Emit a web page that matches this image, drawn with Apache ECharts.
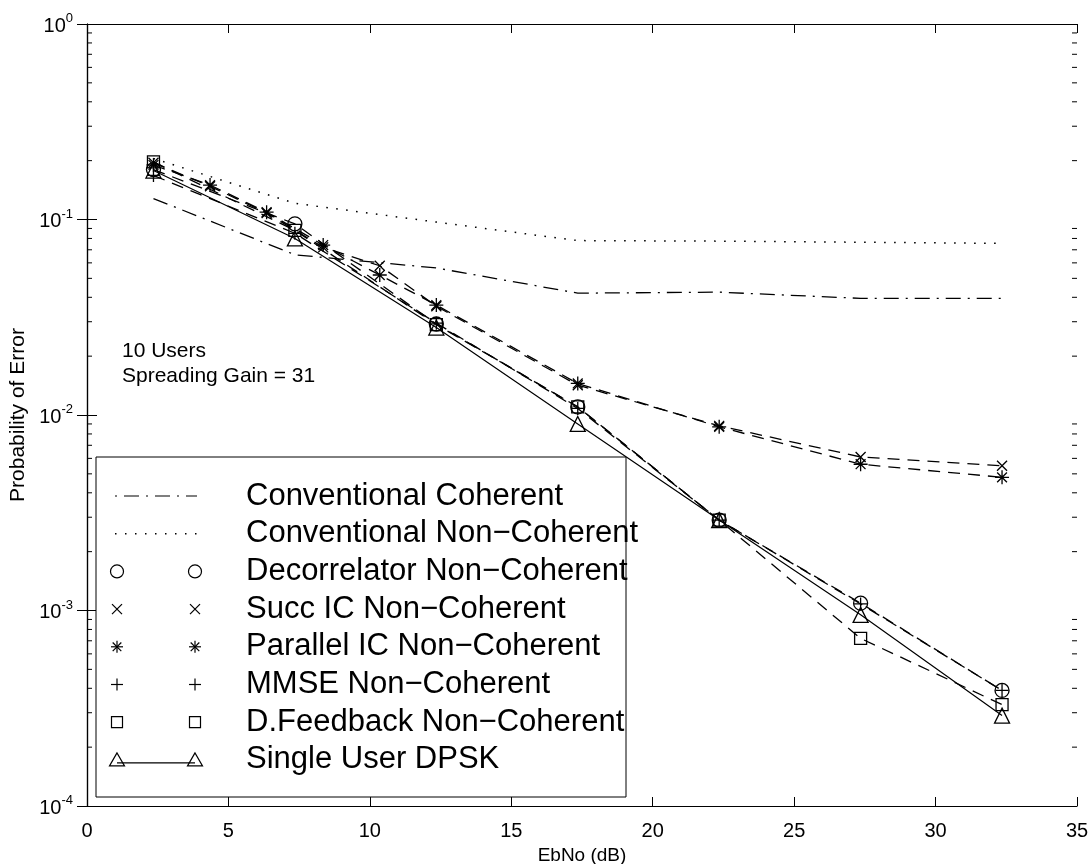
<!DOCTYPE html>
<html><head><meta charset="utf-8">
<script src="https://cdn.jsdelivr.net/npm/echarts@6/dist/echarts.min.js"></script>
<style>html,body{margin:0;padding:0;background:#fff}#c{width:1091px;height:864px}</style>
</head><body><div id="c"></div>
<script>
// ---------- data ----------
const ebnoCoarse = [2.35, 7.35, 12.35, 17.35, 22.35, 27.35, 32.35];
const ebnoFine = [2.35, 4.35, 6.35, 8.35, 10.35, 12.35, 17.35, 22.35, 27.35, 32.35];

const convCoherent    = [0.128, 0.066, 0.0565, 0.042, 0.0425, 0.0395, 0.0395];
const convNonCoherent = [0.205, 0.121, 0.097, 0.078, 0.0775, 0.0765, 0.0755];
const decorrelator    = [0.180, 0.095, 0.0292, 0.0110, 0.0029, 0.00109, 0.00039];
const succIC          = [0.195, 0.148, 0.108, 0.072, 0.058, 0.036, 0.0142, 0.0088, 0.0061, 0.0055];
const parallelIC      = [0.190, 0.150, 0.109, 0.074, 0.052, 0.0365, 0.0145, 0.0087, 0.0056, 0.0048];
const mmse            = [0.168, 0.085, 0.0295, 0.0108, 0.0029, 0.00108, 0.00039];
const dFeedback       = [0.197, 0.088, 0.0290, 0.0110, 0.0029, 0.00072, 0.00033];
const singleUser      = [0.178, 0.080, 0.0280, 0.0090, 0.0029, 0.00095, 0.00029];

const seriesNames = [
  'Conventional Coherent',
  'Conventional Non\u2212Coherent',
  'Decorrelator Non\u2212Coherent',
  'Succ IC Non\u2212Coherent',
  'Parallel IC Non\u2212Coherent',
  'MMSE Non\u2212Coherent',
  'D.Feedback Non\u2212Coherent',
  'Single User DPSK'
];
const xTickStep = 5, xMin = 0, xMax = 35;
const yMin = 1e-4, yMax = 1;
const minorMantissas = [2, 3, 4, 5, 6, 7, 8, 9];
const decades = [1e-4, 1e-3, 1e-2, 1e-1];
const annotationLines = ['10 Users', 'Spreading Gain = 31'];
const xName = 'EbNo (dB)', yName = 'Probability of Error';

// ---------- helpers ----------
const FONT = "'Liberation Sans', Arial, Helvetica, sans-serif";
const pair = (xs, ys) => xs.map((x, i) => [x, ys[i]]);
const minorTickValues = [];
decades.forEach(d => minorMantissas.forEach(m => minorTickValues.push(m * d)));

const SYM = {
  x: 'path://M0,0L10,10M10,0L0,10',
  plus: 'path://M5,0L5,10M0,5L10,5',
  star: 'path://M5,0L5,10M0,5L10,5M1.5,1.5L8.5,8.5M8.5,1.5L1.5,8.5'
};
const black = '#000';
function markerSeries(name, xs, ys, symbol, size, lineType, lineWidth) {
  return {
    name, type: 'line', data: pair(xs, ys), symbol, symbolSize: size,
    showAllSymbol: true, silent: true, animation: false,
    lineStyle: { color: black, width: lineWidth || 1.3, type: lineType },
    itemStyle: { color: 'transparent', borderColor: black, borderWidth: 1.3 },
    z: 3
  };
}

const series = [
  markerSeries(seriesNames[0], ebnoCoarse, convCoherent, 'none', 0, [15, 7, 2, 7], 1.3),
  markerSeries(seriesNames[1], ebnoCoarse, convNonCoherent, 'none', 0, [1.6, 8.4], 1.5),
  markerSeries(seriesNames[2], ebnoCoarse, decorrelator, 'circle', 14, [12, 8]),
  markerSeries(seriesNames[3], ebnoFine, succIC, SYM.x, 10, [12, 8]),
  markerSeries(seriesNames[4], ebnoFine, parallelIC, SYM.star, 14, [12, 8]),
  markerSeries(seriesNames[5], ebnoCoarse, mmse, SYM.plus, 13, [12, 8]),
  markerSeries(seriesNames[6], ebnoCoarse, dFeedback, 'rect', 12, [12, 8]),
  markerSeries(seriesNames[7], ebnoCoarse, singleUser, 'triangle', 15, 'solid', 1.2),
  {
    type: 'custom', silent: true, animation: false, clip: false,
    data: minorTickValues.map(v => [xMin, v]),
    renderItem: function (params, api) {
      const v = api.value(1);
      const l = api.coord([xMin, v]);
      const r = api.coord([xMax, v]);
      const st = { stroke: black, lineWidth: 1 };
      return { type: 'group', children: [
        { type: 'line', shape: { x1: l[0], y1: l[1], x2: l[0] + 5, y2: l[1] }, style: st },
        { type: 'line', shape: { x1: r[0] - 5, y1: r[1], x2: r[0], y2: r[1] }, style: st }
      ]};
    }
  }
];

// ---------- legend (MATLAB style, drawn as graphic) ----------
const LG = { left: 96, top: 457, right: 626, bottom: 797, x1: 117, x2: 195, tx: 246, y0: 496, step: 37.7 };
const gst = { stroke: black, lineWidth: 1.2, fill: null };
function gline(x1, y1, x2, y2, extra) {
  return { type: 'line', z: 101, shape: { x1, y1, x2, y2 }, style: Object.assign({ stroke: black, lineWidth: 1.2 }, extra || {}) };
}
function legendMarker(kind, cx, cy) {
  switch (kind) {
    case 'circle': return [{ type: 'circle', z: 101, shape: { cx, cy, r: 6.5 }, style: gst }];
    case 'x': return [gline(cx - 5, cy - 5, cx + 5, cy + 5), gline(cx - 5, cy + 5, cx + 5, cy - 5)];
    case 'plus': return [gline(cx - 6, cy, cx + 6, cy), gline(cx, cy - 6, cx, cy + 6)];
    case 'star': return [gline(cx - 6, cy, cx + 6, cy), gline(cx, cy - 6, cx, cy + 6),
                         gline(cx - 4.3, cy - 4.3, cx + 4.3, cy + 4.3), gline(cx - 4.3, cy + 4.3, cx + 4.3, cy - 4.3)];
    case 'square': return [{ type: 'rect', z: 101, shape: { x: cx - 5.5, y: cy - 5.5, width: 11, height: 11 }, style: gst }];
    case 'triangle': return [{ type: 'polygon', z: 101, shape: { points: [[cx, cy - 7], [cx - 7.5, cy + 6], [cx + 7.5, cy + 6]] }, style: gst }];
  }
  return [];
}
const legendKinds = ['dashdot', 'dotted', 'circle', 'x', 'star', 'plus', 'square', 'triangleLine'];
const graphics = [
  { type: 'rect', z: 100, shape: { x: LG.left, y: LG.top, width: LG.right - LG.left, height: LG.bottom - LG.top },
    style: { fill: '#fff', stroke: black, lineWidth: 1 } }
];
legendKinds.forEach((k, i) => {
  const cy = LG.y0 + i * LG.step;
  if (k === 'dashdot') graphics.push(gline(LG.x1 - 2, cy, LG.x2 + 2, cy, { lineWidth: 1.2, lineDash: [2, 7, 15, 7] }));
  else if (k === 'dotted') graphics.push(gline(LG.x1 - 2, cy, LG.x2 + 2, cy, { lineWidth: 1.4, lineDash: [1.5, 8.5] }));
  else if (k === 'triangleLine') {
    graphics.push(gline(LG.x1, cy + 3, LG.x2, cy + 3, { lineWidth: 1.2 }));
    legendMarker('triangle', LG.x1, cy).forEach(g => graphics.push(g));
    legendMarker('triangle', LG.x2, cy).forEach(g => graphics.push(g));
  } else {
    legendMarker(k, LG.x1, cy).forEach(g => graphics.push(g));
    legendMarker(k, LG.x2, cy).forEach(g => graphics.push(g));
  }
  graphics.push({ type: 'text', z: 101, x: LG.tx, y: cy,
    style: { text: seriesNames[i], fill: black, fontSize: 31, fontFamily: FONT, verticalAlign: 'middle', align: 'left' } });
});
annotationLines.forEach((t, i) => {
  graphics.push({ type: 'text', z: 101, x: 122, y: 351 + i * 25,
    style: { text: t, fill: black, fontSize: 21, fontFamily: FONT, verticalAlign: 'middle', align: 'left' } });
});

// ---------- axes ----------
const axisLine = { show: true, lineStyle: { color: black, width: 1.2 } };
const supLabel = {
  formatter: v => '{b|10}{s|' + Math.round(Math.log10(v)) + '}',
  margin: 14,
  rich: {
    b: { fontSize: 20, fontFamily: FONT, color: black, verticalAlign: 'bottom' },
    s: { fontSize: 13, fontFamily: FONT, color: black, verticalAlign: 'bottom', padding: [0, 0, 11, 0] }
  }
};
const option = {
  backgroundColor: '#fff',
  animation: false,
  grid: { left: 87, right: 14, top: 24, bottom: 58, containLabel: false, outerBoundsMode: 'none' },
  xAxis: [
    { type: 'value', min: xMin, max: xMax, interval: xTickStep, position: 'bottom',
      axisLine, splitLine: { show: false },
      axisTick: { show: true, inside: true, length: 9, lineStyle: { color: black } },
      axisLabel: { color: black, fontSize: 20, fontFamily: FONT, margin: 15 },
      name: xName, nameLocation: 'middle', nameGap: 34,
      nameTextStyle: { color: black, fontSize: 19, fontFamily: FONT } },
    { type: 'value', min: xMin, max: xMax, interval: xTickStep, position: 'top',
      axisLine, splitLine: { show: false },
      axisTick: { show: true, inside: true, length: 9, lineStyle: { color: black } },
      axisLabel: { show: false } }
  ],
  yAxis: [
    { type: 'log', logBase: 10, min: yMin, max: yMax, position: 'left',
      axisLine, splitLine: { show: false },
      axisTick: { show: true, inside: true, length: 10, lineStyle: { color: black } },
      axisLabel: supLabel,
      name: yName, nameLocation: 'middle', nameGap: 55, nameRotate: 90,
      nameTextStyle: { color: black, fontSize: 21, fontFamily: FONT } },
    { type: 'log', logBase: 10, min: yMin, max: yMax, position: 'right',
      axisLine, splitLine: { show: false },
      axisTick: { show: true, inside: true, length: 10, lineStyle: { color: black } },
      axisLabel: { show: false } }
  ],
  series,
  graphic: graphics
};
const chart = echarts.init(document.getElementById('c'), null, { renderer: 'canvas' });
chart.setOption(option);
</script>
</body></html>
